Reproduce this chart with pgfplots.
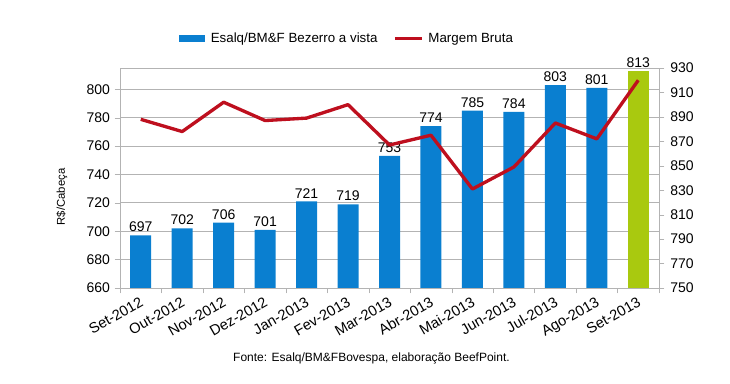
\documentclass[border=0pt]{standalone}
\usepackage{pgfplots}
\pgfplotsset{compat=1.18}
\usepackage{fontspec}
\setmainfont{Liberation Sans}
\definecolor{barblue}{HTML}{0A7FD0}
\definecolor{barlime}{HTML}{A9C90F}
\definecolor{linered}{HTML}{BE0F1E}
\definecolor{gridg}{HTML}{B3B3B3}
\begin{document}
\begin{tikzpicture}
\path[use as bounding box] (0,0) rectangle (547.5pt,288pt);
\pgfplotsset{
  common/.style={
    at={(90pt,72pt)}, anchor=south west,
    scale only axis, width=404.25pt, height=165pt,
    xmin=-0.5, xmax=12.5,
    axis line style={gridg},
    tick style={gridg},
    tick align=outside,
    ticklabel style={font=\fontsize{10.5}{12}\selectfont, text=black},
    /pgf/number format/assume math mode=true,
    clip=false,
  }
}
\begin{axis}[common,
  ymin=660, ymax=815,
  ytick={660,680,...,800},
  ymajorgrids, grid style={gridg, line width=0.6pt},
  ytick pos=left, xtick pos=bottom,
  major tick length=4pt,
  xtick={0,...,12},
  xticklabels={Set-2012,Out-2012,Nov-2012,Dez-2012,Jan-2013,Fev-2013,Mar-2013,Abr-2013,Mai-2013,Jun-2013,Jul-2013,Ago-2013,Set-2013},
  x tick label style={rotate=30, anchor=north east, font=\fontsize{11}{12}\selectfont, inner sep=1pt, xshift=-1pt},
  major x tick style={draw=none},
  minor xtick={-0.5,0.5,...,12.5},
  minor tick length=4pt,
  minor x tick style={gridg},
  ybar, bar width=15.75pt, bar shift=0pt,
  nodes near coords,
  nodes near coords style={font=\fontsize{10.5}{12}\selectfont, text=black, yshift=-1pt},
  legend style={at={(0.424,1.132)}, anchor=center, draw=none, fill=none,
    legend columns=2, font=\fontsize{10}{12}\selectfont,
    /tikz/every even column/.append style={column sep=8pt},
    nodes={inner xsep=4pt}},
  legend image code/.code={\fill[#1] (0pt,-2.6pt) rectangle (20pt,2.6pt);},
]
\addplot[fill=barblue, draw=none] coordinates {
(0,697) (1,702) (2,706) (3,701) (4,721) (5,719) (6,753) (7,774) (8,785) (9,784) (10,803) (11,801)};
\addlegendentry{Esalq/BM\&F Bezerro a vista}
\addplot[fill=barlime, draw=none, forget plot] coordinates {(12,813)};
\addlegendimage{legend image code/.code={\draw[linered, line width=2.2pt] (0pt,0pt) -- (20pt,0pt);}}
\addlegendentry{Margem Bruta}
\end{axis}
\begin{axis}[common,
  ymin=750, ymax=930,
  ytick={750,770,...,930},
  axis y line*=right,
  axis x line=none,
  major tick length=4pt,
  y tick style={gridg},
  yticklabel style={xshift=1pt},
]
\addplot[linered, line width=2.5pt, line join=round] coordinates {
(0,888) (1,878) (2,902) (3,887) (4,889) (5,900) (6,867) (7,875) (8,831) (9,849) (10,885) (11,872) (12,920)};
\end{axis}
\node[rotate=90, font=\fontsize{8.5}{10}\selectfont] at (46.5pt,140.25pt) {R\$/Cabeça};
\node[font=\fontsize{9}{11}\selectfont] at (278.6pt,19.25pt) {Fonte: Esalq/BM\&FBovespa, elaboração BeefPoint.};
\end{tikzpicture}
\end{document}
